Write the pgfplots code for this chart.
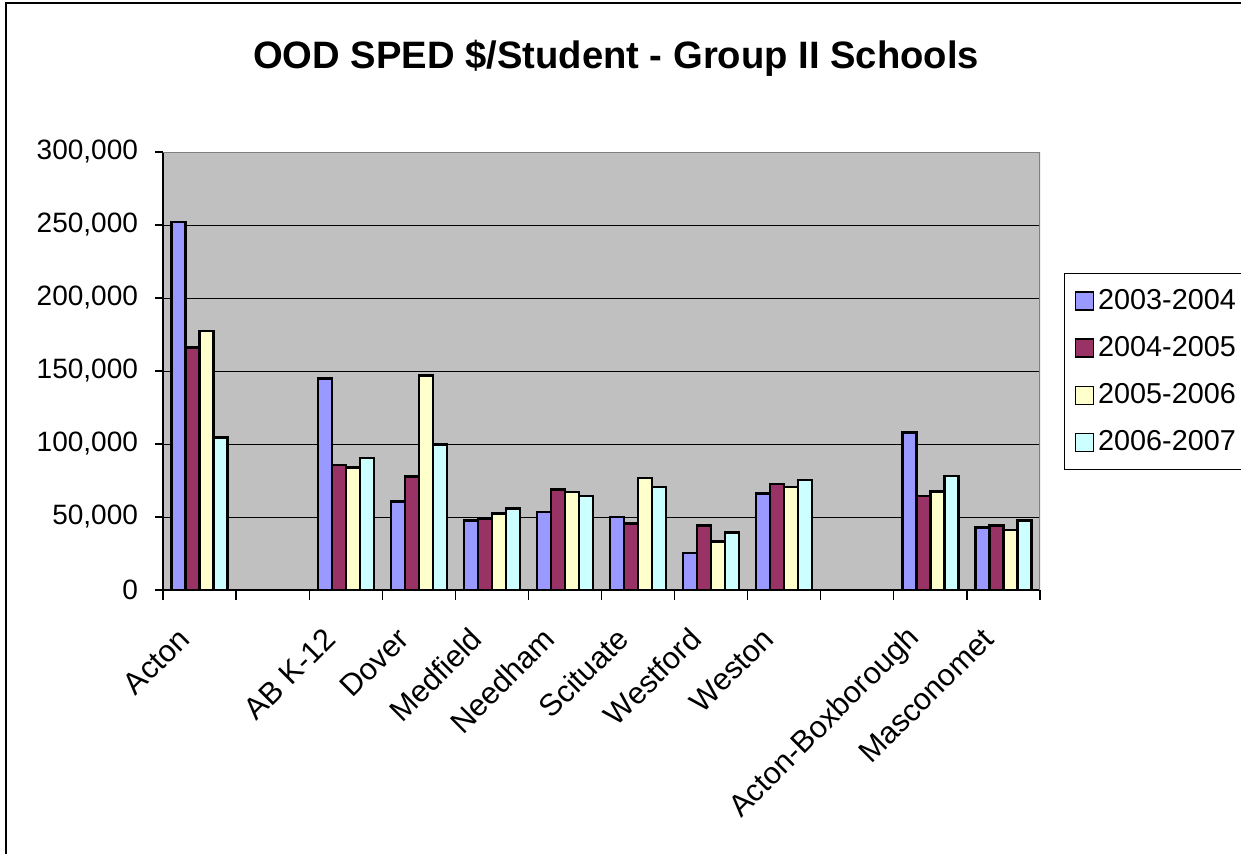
\documentclass[border=0pt]{standalone}
\usepackage{fontspec}
\setmainfont{Liberation Sans}
\usepackage{pgfplots}
\pgfplotsset{compat=1.18}
\definecolor{cA}{HTML}{9999FF}
\definecolor{cB}{HTML}{993366}
\definecolor{cC}{HTML}{FFFFCC}
\definecolor{cD}{HTML}{CCFFFF}
\definecolor{plotbg}{HTML}{C0C0C0}
\definecolor{bordergray}{HTML}{808080}
\begin{document}
\begin{tikzpicture}
\useasboundingbox (0pt,0pt) rectangle (620.5pt,426.5pt);
\draw[line width=0.6pt] (3pt,-20pt) -- (3pt,425pt) -- (640pt,425pt);
\node[font=\bfseries\fontsize{19.1}{21}\selectfont] at (308pt,397.5pt) {OOD SPED \$/Student - Group II Schools};
\begin{axis}[
  at={(81.5pt,131.5pt)}, anchor=south west,
  scale only axis, width=438.5pt, height=219pt,
  xmin=-0.5, xmax=11.5, ymin=0, ymax=300000,
  axis x line=bottom, axis y line=left,
  axis line style={-, black, line width=0.6pt},
  axis background/.style={fill=plotbg},
  ybar=0pt, bar width=7pt,
  xtick={0,...,11},
  xticklabels={Acton,,AB K-12,Dover,Medfield,Needham,Scituate,Westford,Weston,,Acton-Boxborough,Masconomet},
  major x tick style={draw=none},
  minor xtick={-0.5,0.5,...,11.5},
  minor tick length=5pt,
  major tick length=4pt,
  tick align=outside,
  tick style={black, line width=0.6pt},
  ytick={0,50000,...,300000},
  ymajorgrids, grid style={black, line width=0.5pt},
  scaled y ticks=false,
  yticklabel style={font=\fontsize{14}{16}\selectfont, xshift=-5pt, /pgf/number format/.cd, fixed, 1000 sep={,}, assume math mode=true},
  xticklabel style={font=\fontsize{15.3}{17}\selectfont, xshift=-7pt, yshift=-17pt, rotate=45, anchor=east, inner sep=1pt},
  legend style={at={(1.0274,0.7237)}, anchor=north west, draw=black, line width=0.5pt, fill=white,
    font=\fontsize{14.4}{16}\selectfont, row sep=8pt, inner xsep=5pt, inner ysep=6pt},
  legend cell align=left,
  legend image code/.code={\draw[#1, line width=0.8pt] (0pt,-4.5pt) rectangle (9pt,4.5pt);},
]
\addplot[fill=cA, draw=black, line width=1.2pt] coordinates {(0,252000) (2,145000) (3,60500) (4,47700) (5,53400) (6,50200) (7,25400) (8,66000) (10,107900) (11,42800)};
\addplot[fill=cB, draw=black, line width=1.2pt] coordinates {(0,166000) (2,85500) (3,77700) (4,49000) (5,68900) (6,45500) (7,44100) (8,72500) (10,64200) (11,44100)};
\addplot[fill=cC, draw=black, line width=1.2pt] coordinates {(0,177300) (2,84000) (3,147000) (4,52500) (5,67300) (6,76800) (7,33100) (8,70500) (10,67600) (11,41000)};
\addplot[fill=cD, draw=black, line width=1.2pt] coordinates {(0,104500) (2,90300) (3,99600) (4,55700) (5,64200) (6,70500) (7,39400) (8,75200) (10,78100) (11,47500)};
\legend{2003-2004,2004-2005,2005-2006,2006-2007}
\draw[bordergray, line width=0.6pt] (rel axis cs:0,1) -- (rel axis cs:1,1) -- (rel axis cs:1,0);
\end{axis}
\end{tikzpicture}
\end{document}
